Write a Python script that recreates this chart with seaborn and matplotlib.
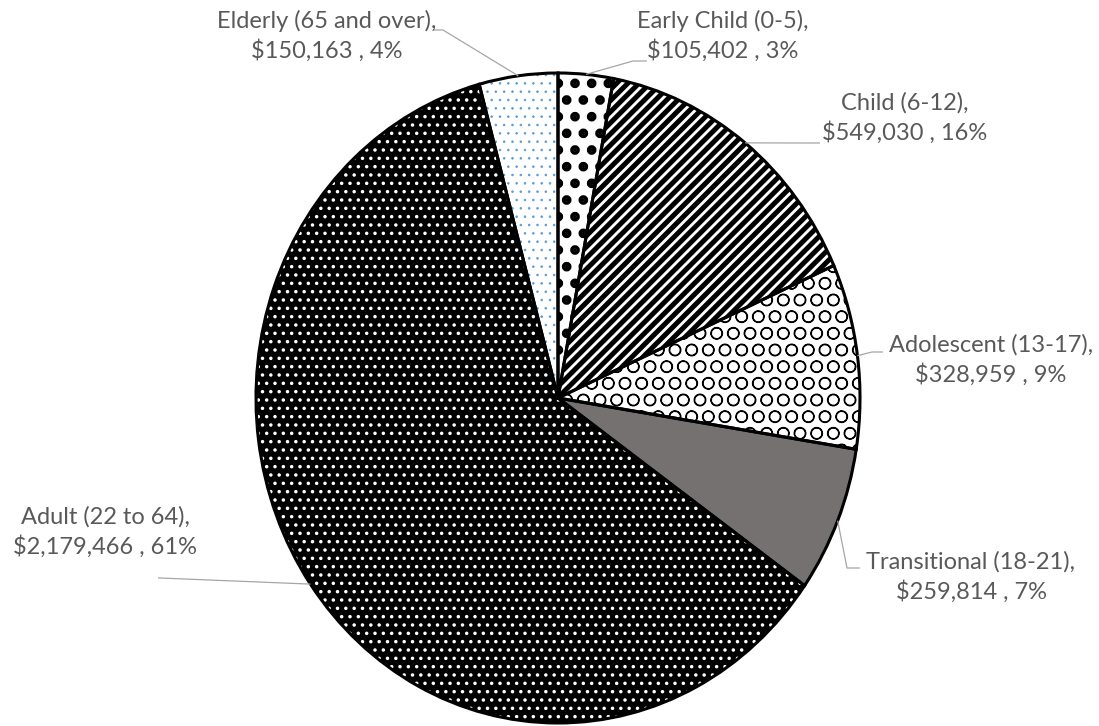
import matplotlib
matplotlib.use("Agg")
import matplotlib.pyplot as plt
import seaborn as sns
import numpy as np

# ---- data ----
categories = ["Early Child (0-5)", "Child (6-12)", "Adolescent (13-17)",
              "Transitional (18-21)", "Adult (22 to 64)", "Elderly (65 and over)"]
amounts = [105402, 549030, 328959, 259814, 2179466, 150163]
percent_labels = ["3%", "16%", "9%", "7%", "61%", "4%"]

# ---- style ----
sns.set_theme(style="white")
plt.rcParams["font.family"] = ["Lato", "DejaVu Sans"]

face_colors = ["white", "white", "white", "#767171", "black", "white"]
hatch_colors = ["black", "black", "black", "#767171", "white", "#5B9BD5"]
hatches = [".", "///", "O", None, "..", ".."]
hatch_lws = [4.5, 3.6, 0.9, 0.5, 1.3, 0.6]

W, H = 1099, 726
CX, CY = 558, 398          # pie centre (pixels from top-left)
RX, RY = 302, 325          # pie radii in pixels (slightly elliptical)

def px(x, y):
    return (x - CX) / RX, (CY - y) / RY

fig = plt.figure(figsize=(W / 100, H / 100), dpi=100)
ax = fig.add_axes([0, 0, 1, 1])

wedges, _ = ax.pie(amounts, startangle=90, counterclock=False,
                   wedgeprops=dict(linewidth=0))
for w, fc, hc, ht, hl in zip(wedges, face_colors, hatch_colors, hatches, hatch_lws):
    w.set_facecolor(fc)
    w.set_edgecolor(hc)
    w.set_linewidth(0)
    if ht:
        w.set_hatch(ht)
        if hasattr(w, "set_hatch_linewidth"):
            w.set_hatch_linewidth(hl)
        else:
            w._hatch_linewidth = hl

outline, _ = ax.pie(amounts, startangle=90, counterclock=False,
                    wedgeprops=dict(fill=False, edgecolor="black", linewidth=2.2))

ax.set_aspect("auto")
ax.set_xlim(-CX / RX, (W - CX) / RX)
ax.set_ylim((CY - H) / RY, CY / RY)
ax.axis("off")

# ---- labels with leader lines ----
# text centre, leader start, leader elbow (pixels)
label_layout = [
    ((723, 36), (647, 61), (633, 61)),
    ((905, 118), (820, 143), (810, 143)),
    ((991, 360), (883, 352), (872, 352)),
    ((971, 577), (860, 568), (847, 568)),
    ((105, 532), (158, 578), (160, 578)),
    ((327, 36), (433, 30), (443, 30)),
]
text_color = "#595959"
line_color = "#A6A6A6"
for w, cat, amt, pct, (tc, ls, le) in zip(outline, categories, amounts, percent_labels, label_layout):
    theta = np.deg2rad((w.theta1 + w.theta2) / 2)
    ex, ey = np.cos(theta), np.sin(theta)
    sx, sy = px(*ls)
    bx, by = px(*le)
    ax.plot([sx, bx, ex], [sy, by, ey], color=line_color, lw=0.9, solid_capstyle="butt")
    tx, ty = px(*tc)
    ax.text(tx, ty, f"{cat},\n${amt:,} , {pct}", ha="center", va="center",
            multialignment="center", fontsize=17, color=text_color, linespacing=1.4)

fig.savefig("out.png", dpi=100)
